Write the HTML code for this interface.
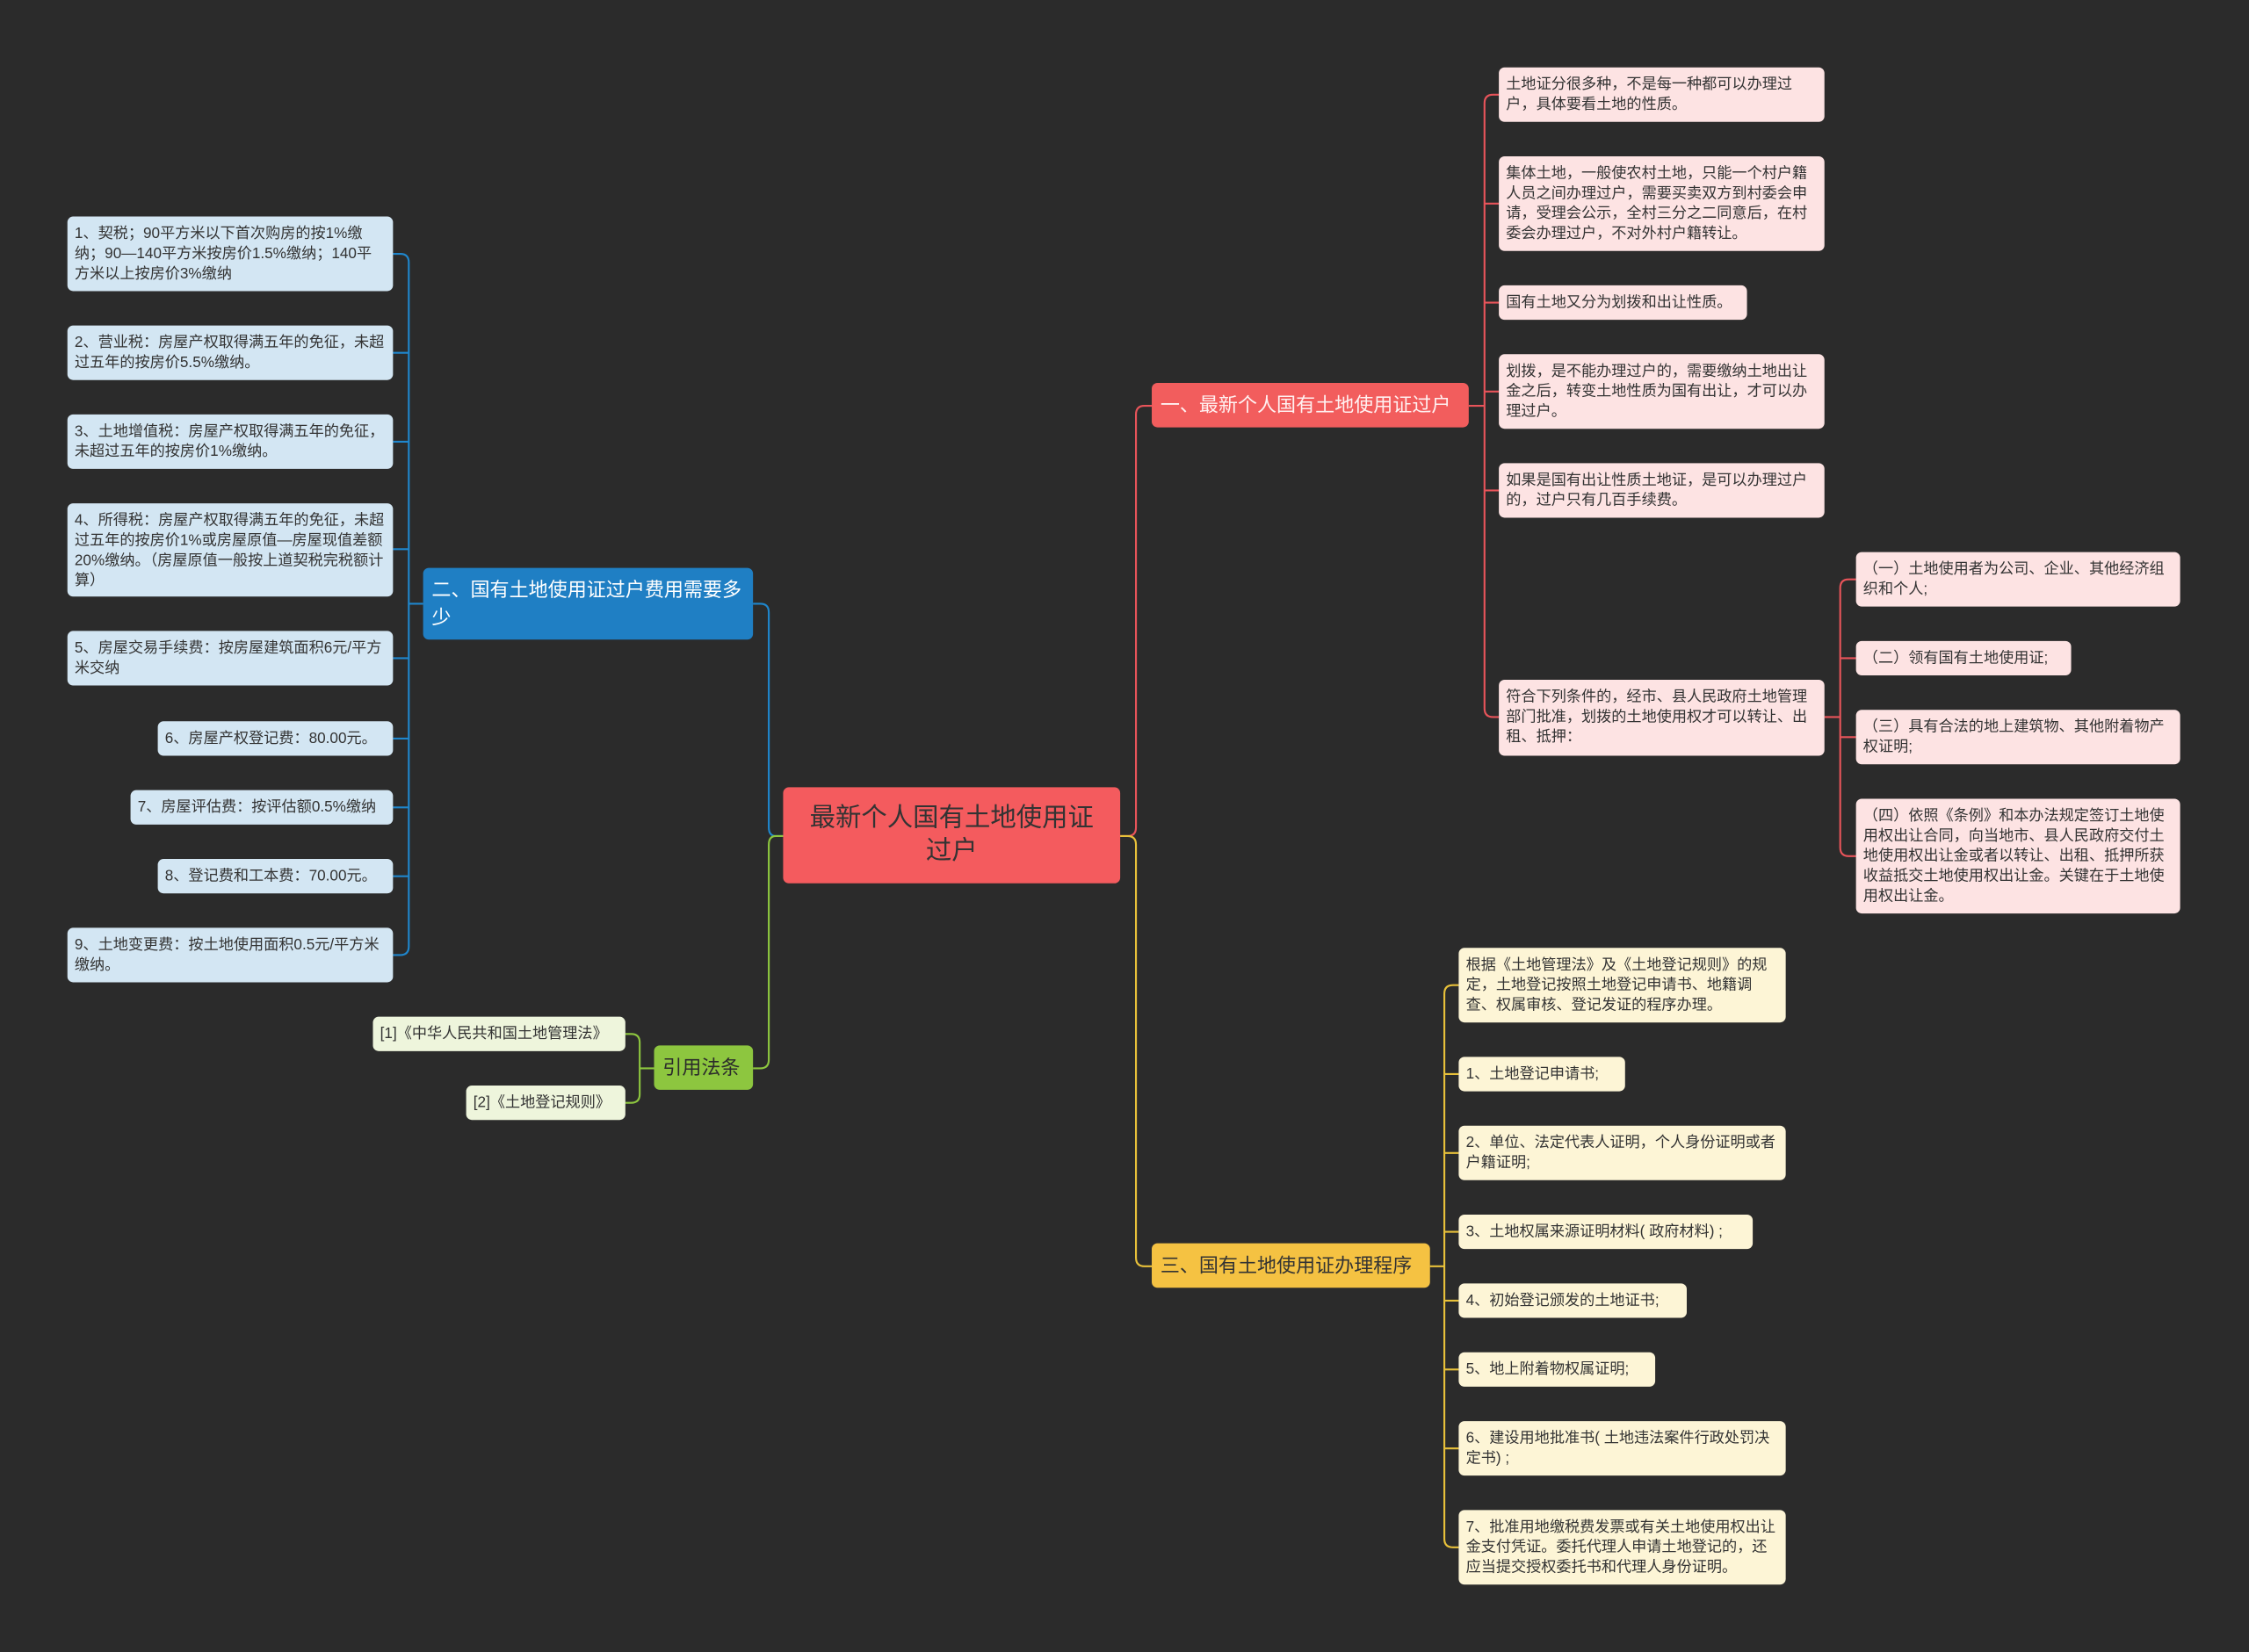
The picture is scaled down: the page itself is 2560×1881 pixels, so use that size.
<!DOCTYPE html>
<html><head><meta charset="utf-8"><style>
html,body{margin:0;padding:0;background:#2b2b2b;overflow:hidden}
#w{position:absolute;left:0;top:0;width:1568px;height:1152px;transform:scale(1.63265,1.63281);transform-origin:0 0;font-family:"Liberation Sans","Noto Sans CJK SC",sans-serif}
.b{position:absolute;box-sizing:border-box;border-radius:4px;font-size:10.5px;line-height:14px;padding:5px 5px;color:#333;overflow:hidden}
.p{background:#fde3e3}.l{background:#d3e6f3}.g{background:#eef5dc}.y{background:#fdf5d6}
.br{position:absolute;box-sizing:border-box;border-radius:4px;font-size:13.5px;line-height:19px;padding:6px 6px;}
.nw{white-space:nowrap}
svg{position:absolute;left:0;top:0}
</style></head><body><div id="w">
<svg width="1568" height="1152" fill="none" stroke-width="1.3">
<g stroke="#e8545a">
<path d="M781 583 H786 Q792 583 792 577 V289 Q792 283 798 283 H803"/>
<path d="M1024 283 H1035"/>
<path d="M1035 72 Q1035 66 1041 66 H1045 M1035 72 V494 Q1035 500 1041 500 H1045"/>
<path d="M1035 142 H1045 M1035 211 H1045 M1035 273 H1045 M1035 342 H1045"/>
<path d="M1272 500 H1283"/>
<path d="M1283 410 Q1283 404 1289 404 H1294 M1283 410 V591 Q1283 597 1289 597 H1294 M1283 459 H1294 M1283 514 H1294"/>
</g>
<g stroke="#e8c13a">
<path d="M781 583 H786 Q792 583 792 589 V877 Q792 883 798 883 H803"/>
<path d="M997 883 H1007"/>
<path d="M1007 693 Q1007 687 1013 687 H1017 M1007 693 V1073 Q1007 1079 1013 1079 H1017"/>
<path d="M1007 749 H1017 M1007 804 H1017 M1007 859 H1017 M1007 907 H1017 M1007 955 H1017 M1007 1010 H1017"/>
</g>
<g stroke="#1f86cc">
<path d="M546 583 H541 Q536 583 536 577 V427 Q536 421 530 421 H525"/>
<path d="M295 421 H285"/>
<path d="M285 183 Q285 177 279 177 H274 M285 183 V660 Q285 666 279 666 H274"/>
<path d="M285 246 H274 M285 308 H274 M285 383 H274 M285 459 H274 M285 515 H274 M285 563 H274 M285 611 H274"/>
</g>
<g stroke="#8dc63f">
<path d="M546 583 H541 Q536 583 536 589 V739 Q536 745 530 745 H525"/>
<path d="M456 745 H446"/>
<path d="M446 727 Q446 721 440 721 H436 M446 727 V763 Q446 769 440 769 H436"/>
</g>
</svg>

<div class="br" style="left:546px;top:549px;width:235px;height:67px;background:#f45b5e;color:#333;font-size:18px;line-height:23px;text-align:center;padding:10px 10px">最新个人国有土地使用证过户</div>

<div class="br nw" style="left:803px;top:267px;width:221px;height:31px;background:#f25d5d;color:#fff1f1">一、最新个人国有土地使用证过户</div>
<div class="b p" style="left:1045px;top:47px;width:227px;height:38px">土地证分很多种，不是每一种都可以办理过户，具体要看土地的性质。</div>
<div class="b p" style="left:1045px;top:109px;width:227px;height:66px">集体土地，一般使农村土地，只能一个村户籍人员之间办理过户，需要买卖双方到村委会申请，受理会公示，全村三分之二同意后，在村委会办理过户，不对外村户籍转让。</div>
<div class="b p" style="left:1045px;top:199px;width:173px;height:24px">国有土地又分为划拨和出让性质。</div>
<div class="b p" style="left:1045px;top:247px;width:227px;height:52px">划拨，是不能办理过户的，需要缴纳土地出让金之后，转变土地性质为国有出让，才可以办理过户。</div>
<div class="b p" style="left:1045px;top:323px;width:227px;height:38px">如果是国有出让性质土地证，是可以办理过户的，过户只有几百手续费。</div>
<div class="b p" style="left:1045px;top:474px;width:227px;height:53px">符合下列条件的，经市、县人民政府土地管理部门批准，划拨的土地使用权才可以转让、出租、抵押：</div>
<div class="b p" style="left:1294px;top:385px;width:226px;height:38px">（一）土地使用者为公司、企业、其他经济组织和个人;</div>
<div class="b p" style="left:1294px;top:447px;width:150px;height:24px">（二）领有国有土地使用证;</div>
<div class="b p" style="left:1294px;top:495px;width:226px;height:38px">（三）具有合法的地上建筑物、其他附着物产权证明;</div>
<div class="b p" style="left:1294px;top:557px;width:226px;height:80px">（四）依照《条例》和本办法规定签订土地使用权出让合同，向当地市、县人民政府交付土地使用权出让金或者以转让、出租、抵押所获收益抵交土地使用权出让金。关键在于土地使用权出让金。</div>

<div class="br" style="left:295px;top:396px;width:230px;height:50px;background:#1f7fc4;color:#fff">二、国有土地使用证过户费用需要多少</div>
<div class="b l" style="left:47px;top:151px;width:227px;height:52px">1、契税；90平方米以下首次购房的按1%缴纳；90—140平方米按房价1.5%缴纳；140平方米以上按房价3%缴纳</div>
<div class="b l" style="left:47px;top:227px;width:227px;height:38px">2、营业税：房屋产权取得满五年的免征，未超过五年的按房价5.5%缴纳。</div>
<div class="b l" style="left:47px;top:289px;width:227px;height:38px">3、土地增值税：房屋产权取得满五年的免征，未超过五年的按房价1%缴纳。</div>
<div class="b l" style="left:47px;top:351px;width:227px;height:65px">4、所得税：房屋产权取得满五年的免征，未超过五年的按房价1%或房屋原值—房屋现值差额20%缴纳。（房屋原值一般按上道契税完税额计算）</div>
<div class="b l" style="left:47px;top:440px;width:227px;height:38px">5、房屋交易手续费：按房屋建筑面积6元/平方米交纳</div>
<div class="b l" style="left:110px;top:503px;width:164px;height:24px">6、房屋产权登记费：80.00元。</div>
<div class="b l" style="left:91px;top:551px;width:183px;height:24px">7、房屋评估费：按评估额0.5%缴纳</div>
<div class="b l" style="left:110px;top:599px;width:164px;height:24px">8、登记费和工本费：70.00元。</div>
<div class="b l" style="left:47px;top:647px;width:227px;height:38px">9、土地变更费：按土地使用面积0.5元/平方米缴纳。</div>

<div class="br nw" style="left:456px;top:729px;width:69px;height:31px;background:#8dc63f;color:#2b2b2b">引用法条</div>
<div class="b g" style="left:260px;top:709px;width:176px;height:24px">[1]《中华人民共和国土地管理法》</div>
<div class="b g" style="left:325px;top:757px;width:111px;height:24px">[2]《土地登记规则》</div>

<div class="br nw" style="left:803px;top:867px;width:194px;height:31px;background:#f5c242;color:#333">三、国有土地使用证办理程序</div>
<div class="b y" style="left:1017px;top:661px;width:228px;height:52px">根据《土地管理法》及《土地登记规则》的规定，土地登记按照土地登记申请书、地籍调查、权属审核、登记发证的程序办理。</div>
<div class="b y" style="left:1017px;top:737px;width:116px;height:24px">1、土地登记申请书;</div>
<div class="b y" style="left:1017px;top:785px;width:228px;height:38px">2、单位、法定代表人证明，个人身份证明或者户籍证明;</div>
<div class="b y" style="left:1017px;top:847px;width:205px;height:24px">3、土地权属来源证明材料( 政府材料) ;</div>
<div class="b y" style="left:1017px;top:895px;width:159px;height:24px">4、初始登记颁发的土地证书;</div>
<div class="b y" style="left:1017px;top:943px;width:137px;height:24px">5、地上附着物权属证明;</div>
<div class="b y" style="left:1017px;top:991px;width:228px;height:38px">6、建设用地批准书( 土地违法案件行政处罚决定书) ;</div>
<div class="b y" style="left:1017px;top:1053px;width:228px;height:52px">7、批准用地缴税费发票或有关土地使用权出让金支付凭证。委托代理人申请土地登记的，还应当提交授权委托书和代理人身份证明。</div>
</div></body></html>
